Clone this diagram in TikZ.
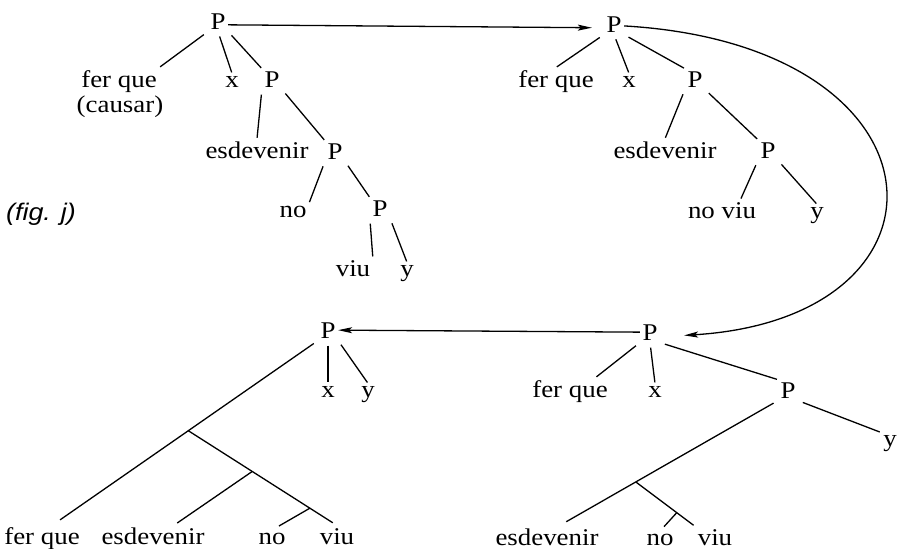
\documentclass[tikz,border=0pt]{standalone}
\usepackage{fontspec}
\setmainfont{Liberation Serif}[FakeStretch=1.12]
\setsansfont{Liberation Sans}[FakeStretch=1.12]
\usepackage{tikz}
\usetikzlibrary{arrows.meta, calc}

\begin{document}
\begin{tikzpicture}[x=1pt, y=-1pt, line width=1.3pt,
    pal/.style={anchor=base, inner sep=2pt, font=\fontsize{24}{28}\selectfont},
    rama/.style={shorten <=5pt, shorten >=1pt},
    flecha/.style={-{Stealth[length=14pt, width=6pt, inset=3pt]}}]
    \useasboundingbox (0,0) rectangle (900,549);
    % Primer arbre (a dalt a l'esquerra)
        \node[pal] (aP) at (218,29) {P};
        \node[pal] (aFer) at (119,87) {fer que};
        \node[pal] (aCaus) at (120,112) {(causar)};
        \node[pal] (aX) at (232,87) {x};
        \node[pal] (aP2) at (272,87) {P};
        \node[pal] (aEsd) at (257,158) {esdevenir};
        \node[pal] (aP3) at (335,159) {P};
        \node[pal] (aNo) at (293,217) {no};
        \node[pal] (aP4) at (380,216) {P};
        \node[pal] (aViu) at (353,276) {viu};
        \node[pal] (aY) at (407,276) {y};
        \node[pal, font=\fontsize{24}{28}\selectfont\sffamily\itshape] (fig) at (41,220) {(fig. j)};
        \foreach \a/\b in {aP.south west/aFer.north east, aP.south/aX.north,
            aP.south east/aP2.north west, aP2.south west/aEsd.north,
            aP2.south east/aP3.north west, aP3.south west/aNo.north east,
            aP3.south east/aP4.north west, aP4.south west/aViu.north east,
            aP4.south east/aY.north} {
            \draw[rama] (\a) -- (\b);
        }
    % Segon arbre (a dalt a la dreta)
        \node[pal] (bP) at (614,32) {P};
        \node[pal] (bFer) at (556,87) {fer que};
        \node[pal] (bX) at (629,87) {x};
        \node[pal] (bP2) at (695,87) {P};
        \node[pal] (bEsd) at (665,158) {esdevenir};
        \node[pal] (bP3) at (768,158) {P};
        \node[pal] (bNoviu) at (722,218) {no viu};
        \node[pal] (bY) at (817,218) {y};
        \foreach \a/\b in {bP.south west/bFer.north, bP.south/bX.north,
            bP.south east/bP2.north west, bP2.south west/bEsd.north,
            bP2.south east/bP3.north west, bP3.south west/bNoviu.30,
            bP3.south east/bY.north} {
            \draw[rama] (\a) -- (\b);
        }
    % Tercer arbre (a baix a la dreta)
        \node[pal] (dP) at (650,340) {P};
        \node[pal] (dFer) at (570,397) {fer que};
        \node[pal] (dX) at (655,397) {x};
        \node[pal] (dP2) at (788,398) {P};
        \node[pal] (dY) at (890,446) {y};
        \foreach \n/\t/\x in {dEsd/esdevenir/547, dNo/no/660, dViu/viu/715} {
            \node[pal] (\n) at (\x,545) {\t};
        }
        \foreach \a/\b in {dP.south west/dFer.28, dP.south/dX.north,
            dP.south east/dP2.north west, dP2.south east/dY.north west} {
            \draw[rama] (\a) -- (\b);
        }
        \coordinate (dC1) at ($(dP2.south west)!0.65!(dEsd.42)$);
        \coordinate (dC2) at ($(dC1)!0.69!(dViu.north west)$);
        \draw[rama, shorten >=8pt] (dP2.south west) -- (dEsd.42);
        \draw[shorten >=2pt] (dC1) -- (dViu.north west);
        \draw[shorten >=6pt] (dC2) -- (dNo.north);
    % Quart arbre (a baix a l'esquerra)
        \node[pal] (cP) at (328,338) {P};
        \node[pal] (cX) at (328,397) {x};
        \node[pal] (cY) at (368,397) {y};
        \foreach \n/\t/\x in {cFer/fer que/42, cEsd/esdevenir/153, cNo/no/272, cViu/viu/337} {
            \node[pal] (\n) at (\x,544) {\t};
        }
        \draw[rama] (cP.south) -- (cX.north);
        \draw[rama] (cP.south east) -- (cY.north);
        \coordinate (cB1) at ($(cP.south west)!0.49!(cFer.50)$);
        \coordinate (cB2) at ($(cB1)!0.43!(cViu.north)$);
        \coordinate (cB3) at ($(cB2)!0.68!(cViu.north)$);
        \draw[rama, shorten >=8pt] (cP.south west) -- (cFer.50);
        \draw[shorten >=5pt] (cB1) -- (cViu.north);
        \draw[shorten >=3pt] (cB2) -- (cEsd.27);
        \draw[shorten >=8pt] (cB3) -- (cNo.north);
    % Fletxes entre els arbres
        \draw[flecha, shorten >=12pt] (aP.-20) -- (bP.200);
        \draw[flecha, shorten >=24pt] (bP.-10) .. controls (955,45) and (968,318) .. (dP.-25);
        \draw[flecha] (dP.west) -- (cP.east);
\end{tikzpicture}
\end{document}
